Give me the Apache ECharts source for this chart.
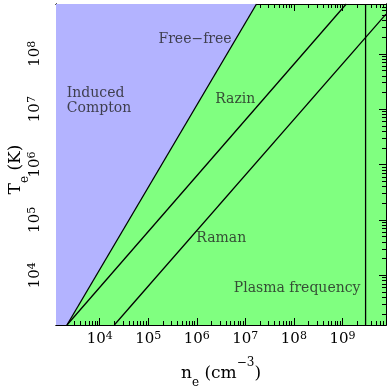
<!DOCTYPE html>
<html><head><meta charset="utf-8">
<script src="https://cdn.jsdelivr.net/npm/echarts@6/dist/echarts.min.js"></script>
<style>html,body{margin:0;padding:0;background:#fff}#c{width:390px;height:389px}</style>
</head><body><div id="c"></div>
<script>
// Axis ranges (n_e in cm^-3, T_e in K)
const neRange = [1.26e3, 7.9e9];
const teRange = [1.26e3, 7.94e8];
const xMajorExp = [4, 5, 6, 7, 8, 9];
const yMajorExp = [4, 5, 6, 7, 8];
// Boundary lines (endpoints)
const freeFreeNe = [2.12e3, 1.70e7];
const freeFreeTe = [1.26e3, 7.94e8];
const razinNe = [2.12e3, 1.2e9];
const razinTe = [1.26e3, 7.94e8];
const ramanNe = [2.0e4, 7.9e9];
const ramanTe = [1.26e3, 5.2e8];
const plasmaNe = [3.0e9, 3.0e9];
const plasmaTe = [1.26e3, 7.94e8];
// Region annotations
const labelTexts = ['Free\u2212free', 'Induced\nCompton', 'Razin', 'Raman', 'Plasma frequency'];
const labelNe = [9.2e5, 2.1e3, 6.2e6, 3.2e6, 2.35e9];
const labelTe = [1.85e8, 1.43e7, 1.48e7, 4.7e4, 5.7e3];
const labelAlign = ['center', 'left', 'center', 'center', 'right'];

const FONT = 'DejaVu Serif';
const BLUE = '#b3b3ff', GREEN = '#80ff80';
const L = Math.log10;
const xMin = L(neRange[0]), xMax = L(neRange[1]);
const yMin = L(teRange[0]), yMax = L(teRange[1]);

function minorVals(min, max) {
  const out = [];
  for (let d = Math.floor(min); d <= Math.ceil(max); d++)
    for (let k = 2; k <= 9; k++) { const v = d + L(k); if (v > min && v < max) out.push(v); }
  return out;
}
const expRich = {
  b: { fontFamily: FONT, fontSize: 15, lineHeight: 17, color: '#000' },
  s: { fontFamily: FONT, fontSize: 11, lineHeight: 11, verticalAlign: 'top', color: '#000' }
};
function axis(pos, min, max, ticks, len, labels, rotate, margin) {
  return {
    type: 'value', position: pos, min: min, max: max, nameMoveOverlap: false,
    axisLine: { show: true, onZero: false, lineStyle: { color: '#000', width: 1 } },
    axisTick: { show: true, inside: true, length: len, customValues: ticks, lineStyle: { color: '#000', width: 1 } },
    axisLabel: labels ? {
      show: true, customValues: labels, rotate: rotate, margin: margin,
      formatter: v => '{b|10}{s|' + Math.round(v) + '}', rich: expRich
    } : { show: false },
    splitLine: { show: false }
  };
}
const xMinor = minorVals(xMin, xMax), yMinor = minorVals(yMin, yMax);
const titleRich = {
  m: { fontFamily: FONT, fontSize: 17, lineHeight: 17, color: '#000' },
  sub: { fontFamily: FONT, fontSize: 12, lineHeight: 12, padding: [18, 0, 0, 0], color: '#000' },
  sup: { fontFamily: FONT, fontSize: 12, lineHeight: 12, padding: [0, 0, 21, 0], color: '#000' }
};
const xAxes = [
  axis('bottom', xMin, xMax, xMajorExp, 7, xMajorExp, 0, 6),
  axis('bottom', xMin, xMax, xMinor, 4, null),
  axis('top', xMin, xMax, xMajorExp, 7, null),
  axis('top', xMin, xMax, xMinor, 4, null)
];
xAxes[0].name = '{m|n}{sub|e}{m| (cm}{sup|\u22123}{m|)}';
xAxes[0].nameLocation = 'middle';
xAxes[0].nameGap = 40;
xAxes[0].nameTextStyle = { rich: titleRich };
const yAxes = [
  axis('left', yMin, yMax, yMajorExp, 7, yMajorExp, 90, 12),
  axis('left', yMin, yMax, yMinor, 4, null),
  axis('right', yMin, yMax, yMajorExp, 7, null),
  axis('right', yMin, yMax, yMinor, 4, null)
];
yAxes[0].name = '{m|T}{sub|e}{m| (K)}';
yAxes[0].nameLocation = 'middle';
yAxes[0].nameGap = 32;
yAxes[0].nameTextStyle = { rich: titleRich, padding: [0, 10, 0, 0] };

function seg(ne, te) { return ne.map((n, i) => [L(n), L(te[i])]); }
function lineSeries(ne, te) {
  return { type: 'line', data: seg(ne, te), showSymbol: false, silent: true, z: 3,
    lineStyle: { color: '#000', width: 1.3 } };
}
const chart = echarts.init(document.getElementById('c'));
chart.setOption({
  animation: false,
  grid: { left: 56, right: 4, top: 4, bottom: 64, containLabel: false, outerBoundsMode: 'none',
    show: true, backgroundColor: GREEN, borderWidth: 0 },
  xAxis: xAxes,
  yAxis: yAxes,
  series: [
    { type: 'line', data: [[xMin, yMin]].concat(seg(freeFreeNe, freeFreeTe)), showSymbol: false, silent: true,
      lineStyle: { width: 0 }, areaStyle: { color: BLUE, opacity: 1, origin: 'end' }, z: 1 },
    lineSeries(freeFreeNe, freeFreeTe),
    lineSeries(razinNe, razinTe),
    lineSeries(ramanNe, ramanTe),
    lineSeries(plasmaNe, plasmaTe),
    { type: 'scatter', symbolSize: 0, silent: true, z: 4,
      data: labelTexts.map((t, i) => ({ value: [L(labelNe[i]), L(labelTe[i])], name: t,
        label: { align: labelAlign[i] } })),
      label: { show: true, position: 'inside', formatter: p => p.name,
        fontFamily: FONT, fontSize: 14, lineHeight: 15, color: '#222' } }
  ]
});
</script></body></html>
